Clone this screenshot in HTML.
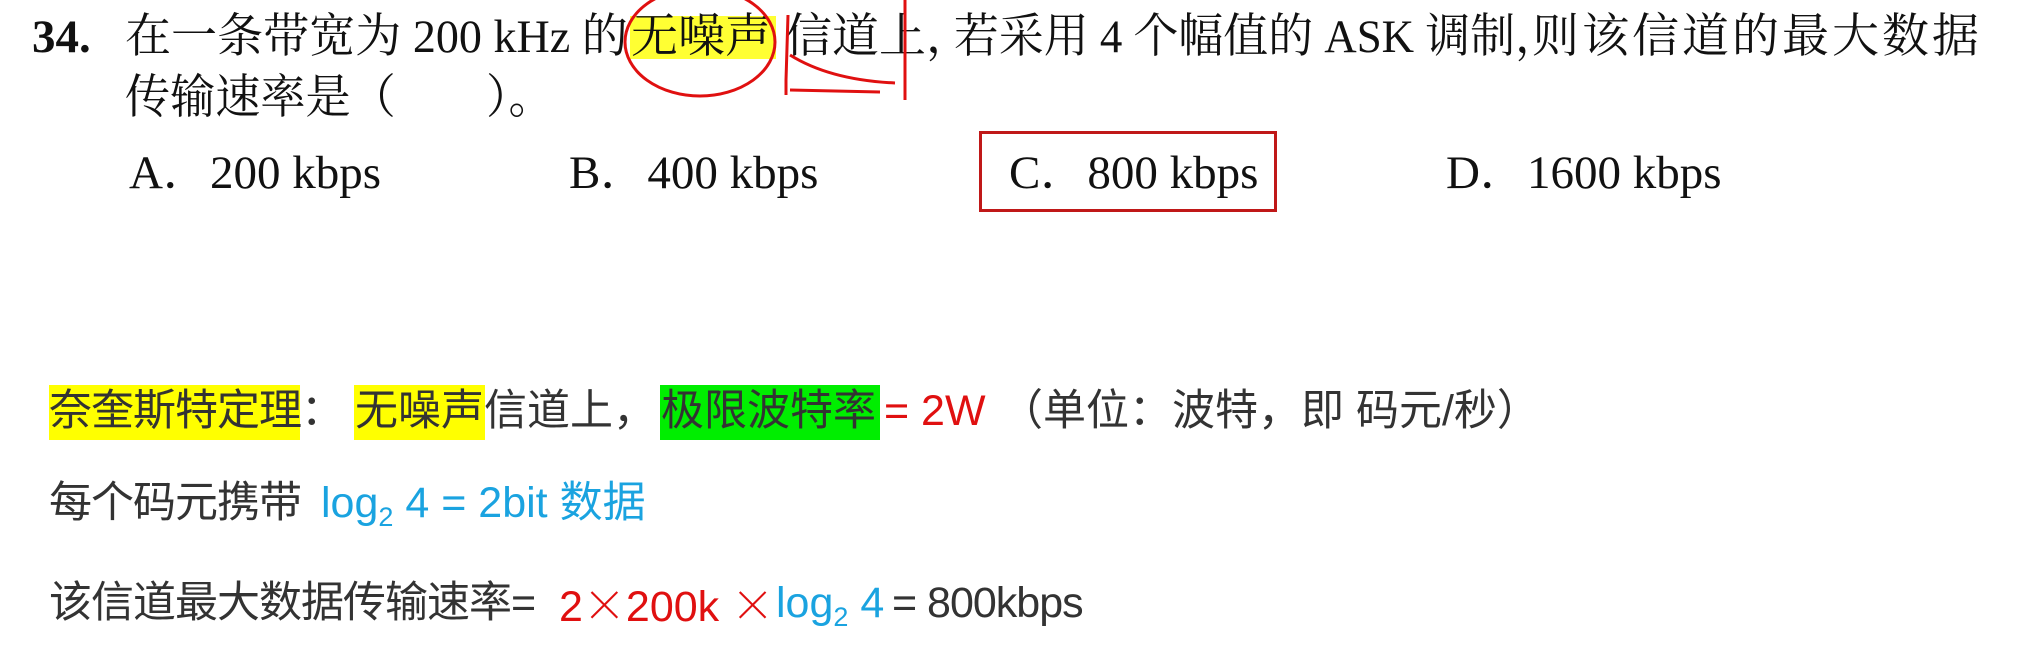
<!DOCTYPE html>
<html><head><meta charset="utf-8"><style>
html,body{margin:0;padding:0;background:#fff;width:2028px;height:646px;overflow:hidden;position:relative}
.t{position:absolute;white-space:nowrap;font-family:"Liberation Serif","Noto Serif CJK SC",serif;font-size:47px;color:#111;line-height:1;transform-origin:0 0}
.s{position:absolute;white-space:nowrap;font-family:"Liberation Sans","Noto Sans CJK SC",sans-serif;font-size:43px;color:#333;line-height:1}
.hy{position:absolute;background:#ffff00}.hg{position:absolute;background:#00ee00}
.r{color:#e01010}.b{color:#1aa3e0}
sub{font-size:27px;vertical-align:-9px}
</style></head><body>
<div style="position:absolute;left:630px;top:16px;width:146px;height:43px;background:#ffff33"></div>
<div class="t" style="left:32px;top:14px"><b>34.</b></div>
<div class="t" style="left:125px;top:14px;transform:scaleX(0.98)">在一条带宽为 200 kHz 的</div>
<div class="t" style="left:631px;top:14px">无噪声</div>
<div class="t" style="left:785px;top:14px">信道上，</div>
<div class="t" style="left:954px;top:14px;transform:scaleX(0.955)">若采用 4 个幅值的 ASK 调制，</div>
<div class="t" style="left:1532px;top:14px;letter-spacing:3px">则该信道的最大数据</div>
<div class="t" style="left:125px;top:75px;transform:scaleX(0.96)">传输速率是（　　）。</div>
<div class="t" style="left:129px;top:150px">A．200 kbps</div>
<div class="t" style="left:569px;top:150px">B．400 kbps</div>
<div class="t" style="left:1009px;top:150px">C．800 kbps</div>
<div class="t" style="left:1446px;top:150px">D．1600 kbps</div>
<div style="position:absolute;left:979px;top:131px;width:292px;height:75px;border:3px solid #c01818"></div>
<svg width="2028" height="646" style="position:absolute;left:0;top:0">
<ellipse cx="700" cy="42" rx="75" ry="54" fill="none" stroke="#e01010" stroke-width="3"/>
<path d="M788 15 L786 80 L786 95 M790 55 Q830 80 895 83 M790 90 L880 92 M905 0 L905 100" fill="none" stroke="#e01010" stroke-width="3"/>
</svg>
<div class="hy" style="left:49px;top:385px;width:251px;height:55px"></div>
<div class="hy" style="left:354px;top:385px;width:131px;height:55px"></div>
<div class="hg" style="left:660px;top:385px;width:220px;height:55px"></div>
<div class="s" style="left:49px;top:390px;letter-spacing:-1px">奈奎斯特定理：</div>
<div class="s" style="left:355px;top:390px">无噪声信道上，</div>
<div class="s" style="left:661px;top:390px">极限波特率</div>
<div class="s r" style="left:884px;top:390px">= 2W</div>
<div class="s" style="left:1000px;top:390px;letter-spacing:0px">（单位：波特，即 码元/秒）</div>
<div class="s" style="left:49px;top:482px;letter-spacing:-1px">每个码元携带</div>
<div class="s b" style="left:321px;top:482px">log<sub>2</sub> 4 = 2bit 数据</div>
<div class="s" style="left:49px;top:582px;letter-spacing:-1px">该信道最大数据传输速率=</div>
<div class="s r" style="left:559px;top:582px">2<span style="font-family:'Noto Sans CJK SC';font-weight:200">×</span>200k <span style="font-family:'Noto Sans CJK SC';font-weight:200">×</span></div>
<div class="s b" style="left:776px;top:582px">log<sub>2</sub> 4</div>
<div class="s" style="left:892px;top:582px;letter-spacing:-1px">= 800kbps</div>
</body></html>
